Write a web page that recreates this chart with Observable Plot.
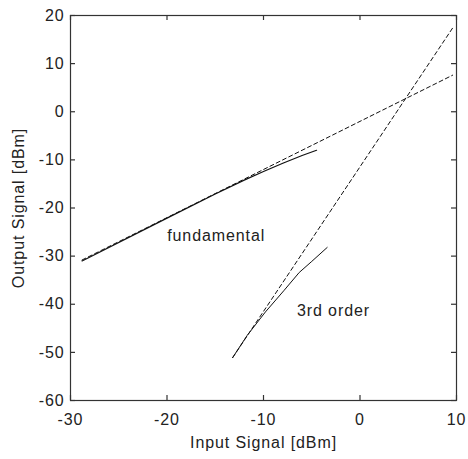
<!DOCTYPE html>
<html>
<head>
<meta charset="utf-8">
<script src="https://cdn.jsdelivr.net/npm/d3@7"></script>
<script src="https://cdn.jsdelivr.net/npm/@observablehq/plot@0.6"></script>
<style>
  html, body { margin: 0; padding: 0; background: #fff; overflow: hidden; }
  svg text { letter-spacing: 0.9px; }
</style>
</head>
<body>
<div id="chart"></div>
<script>
const xTicks = [-30, -20, -10, 0, 10];
const yTicks = [-60, -50, -40, -30, -20, -10, 0, 10, 20];

const fundSolidX = [-28.8, -20, -15, -12, -10, -8, -6, -4.5];
const fundSolidY = [-31, -22.1, -17.1, -14.2, -12.4, -10.7, -9.1, -8];
const fundDashX = [-28.8, 9.6];
const fundDashY = [-30.8, 7.6];

const thirdSolidX = [-13.2, -11.7, -9.8, -7.9, -6.3, -5, -3.4];
const thirdSolidY = [-51.1, -46.5, -41.6, -37.2, -33.4, -31.1, -28.2];
const thirdDashX = [-13.2, 9.6];
const thirdDashY = [-51.1, 17.4];

const labels = [
  {x: -14.9, y: -25.7, text: "fundamental"},
  {x: -2.75, y: -41.3, text: "3rd order"}
];

const zip = (xs, ys) => xs.map((x, i) => ({x, y: ys[i]}));

const ink = "#111";
const axisInk = "#333";
const fmt = d => String(d);

const W = 468, H = 459, ML = 70, MR = 12, MT = 15, MB = 59;
const fw = W - ML - MR, fh = H - MT - MB, tk = 5;

const chart = Plot.plot({
  width: W,
  height: H,
  marginLeft: ML,
  marginRight: MR,
  marginTop: MT,
  marginBottom: MB,
  x: {domain: [-30, 10]},
  y: {domain: [-60, 20]},
  style: {fontFamily: "'Liberation Sans', Arial, sans-serif", fontSize: "16px", color: "#222", background: "#fff"},
  marks: [
    Plot.frame({stroke: axisInk, strokeWidth: 1.2}),
    // inward ticks on all sides
    Plot.ruleX(xTicks, {x: d => d, insetTop: fh - tk, stroke: axisInk, strokeWidth: 1.2}),
    Plot.ruleX(xTicks, {x: d => d, insetBottom: fh - tk, stroke: axisInk, strokeWidth: 1.2}),
    Plot.ruleY(yTicks, {y: d => d, insetRight: fw - tk, stroke: axisInk, strokeWidth: 1.2}),
    Plot.ruleY(yTicks, {y: d => d, insetLeft: fw - tk, stroke: axisInk, strokeWidth: 1.2}),
    // tick labels and titles
    Plot.axisX(xTicks, {anchor: "bottom", tickSize: 0, tickPadding: 13, fontSize: 16, tickFormat: fmt, label: "Input Signal [dBm]", labelAnchor: "center", labelOffset: 47, labelArrow: "none"}),
    Plot.axisY(yTicks, {anchor: "left", tickSize: 0, tickPadding: 6, fontSize: 16, tickFormat: fmt, label: "Output Signal [dBm]", labelAnchor: "center", labelOffset: 58, labelArrow: "none"}),
    // lines
    Plot.line(zip(fundDashX, fundDashY), {x: "x", y: "y", stroke: ink, strokeWidth: 1, strokeDasharray: "4,3"}),
    Plot.line(zip(thirdDashX, thirdDashY), {x: "x", y: "y", stroke: ink, strokeWidth: 1, strokeDasharray: "4,3"}),
    Plot.line(zip(fundSolidX, fundSolidY), {x: "x", y: "y", stroke: ink, strokeWidth: 1.2}),
    Plot.line(zip(thirdSolidX, thirdSolidY), {x: "x", y: "y", stroke: ink, strokeWidth: 1}),
    Plot.text(labels, {x: "x", y: "y", text: "text", fontSize: 16, fill: "#222"})
  ]
});
document.getElementById("chart").appendChild(chart);
</script>
</body>
</html>
